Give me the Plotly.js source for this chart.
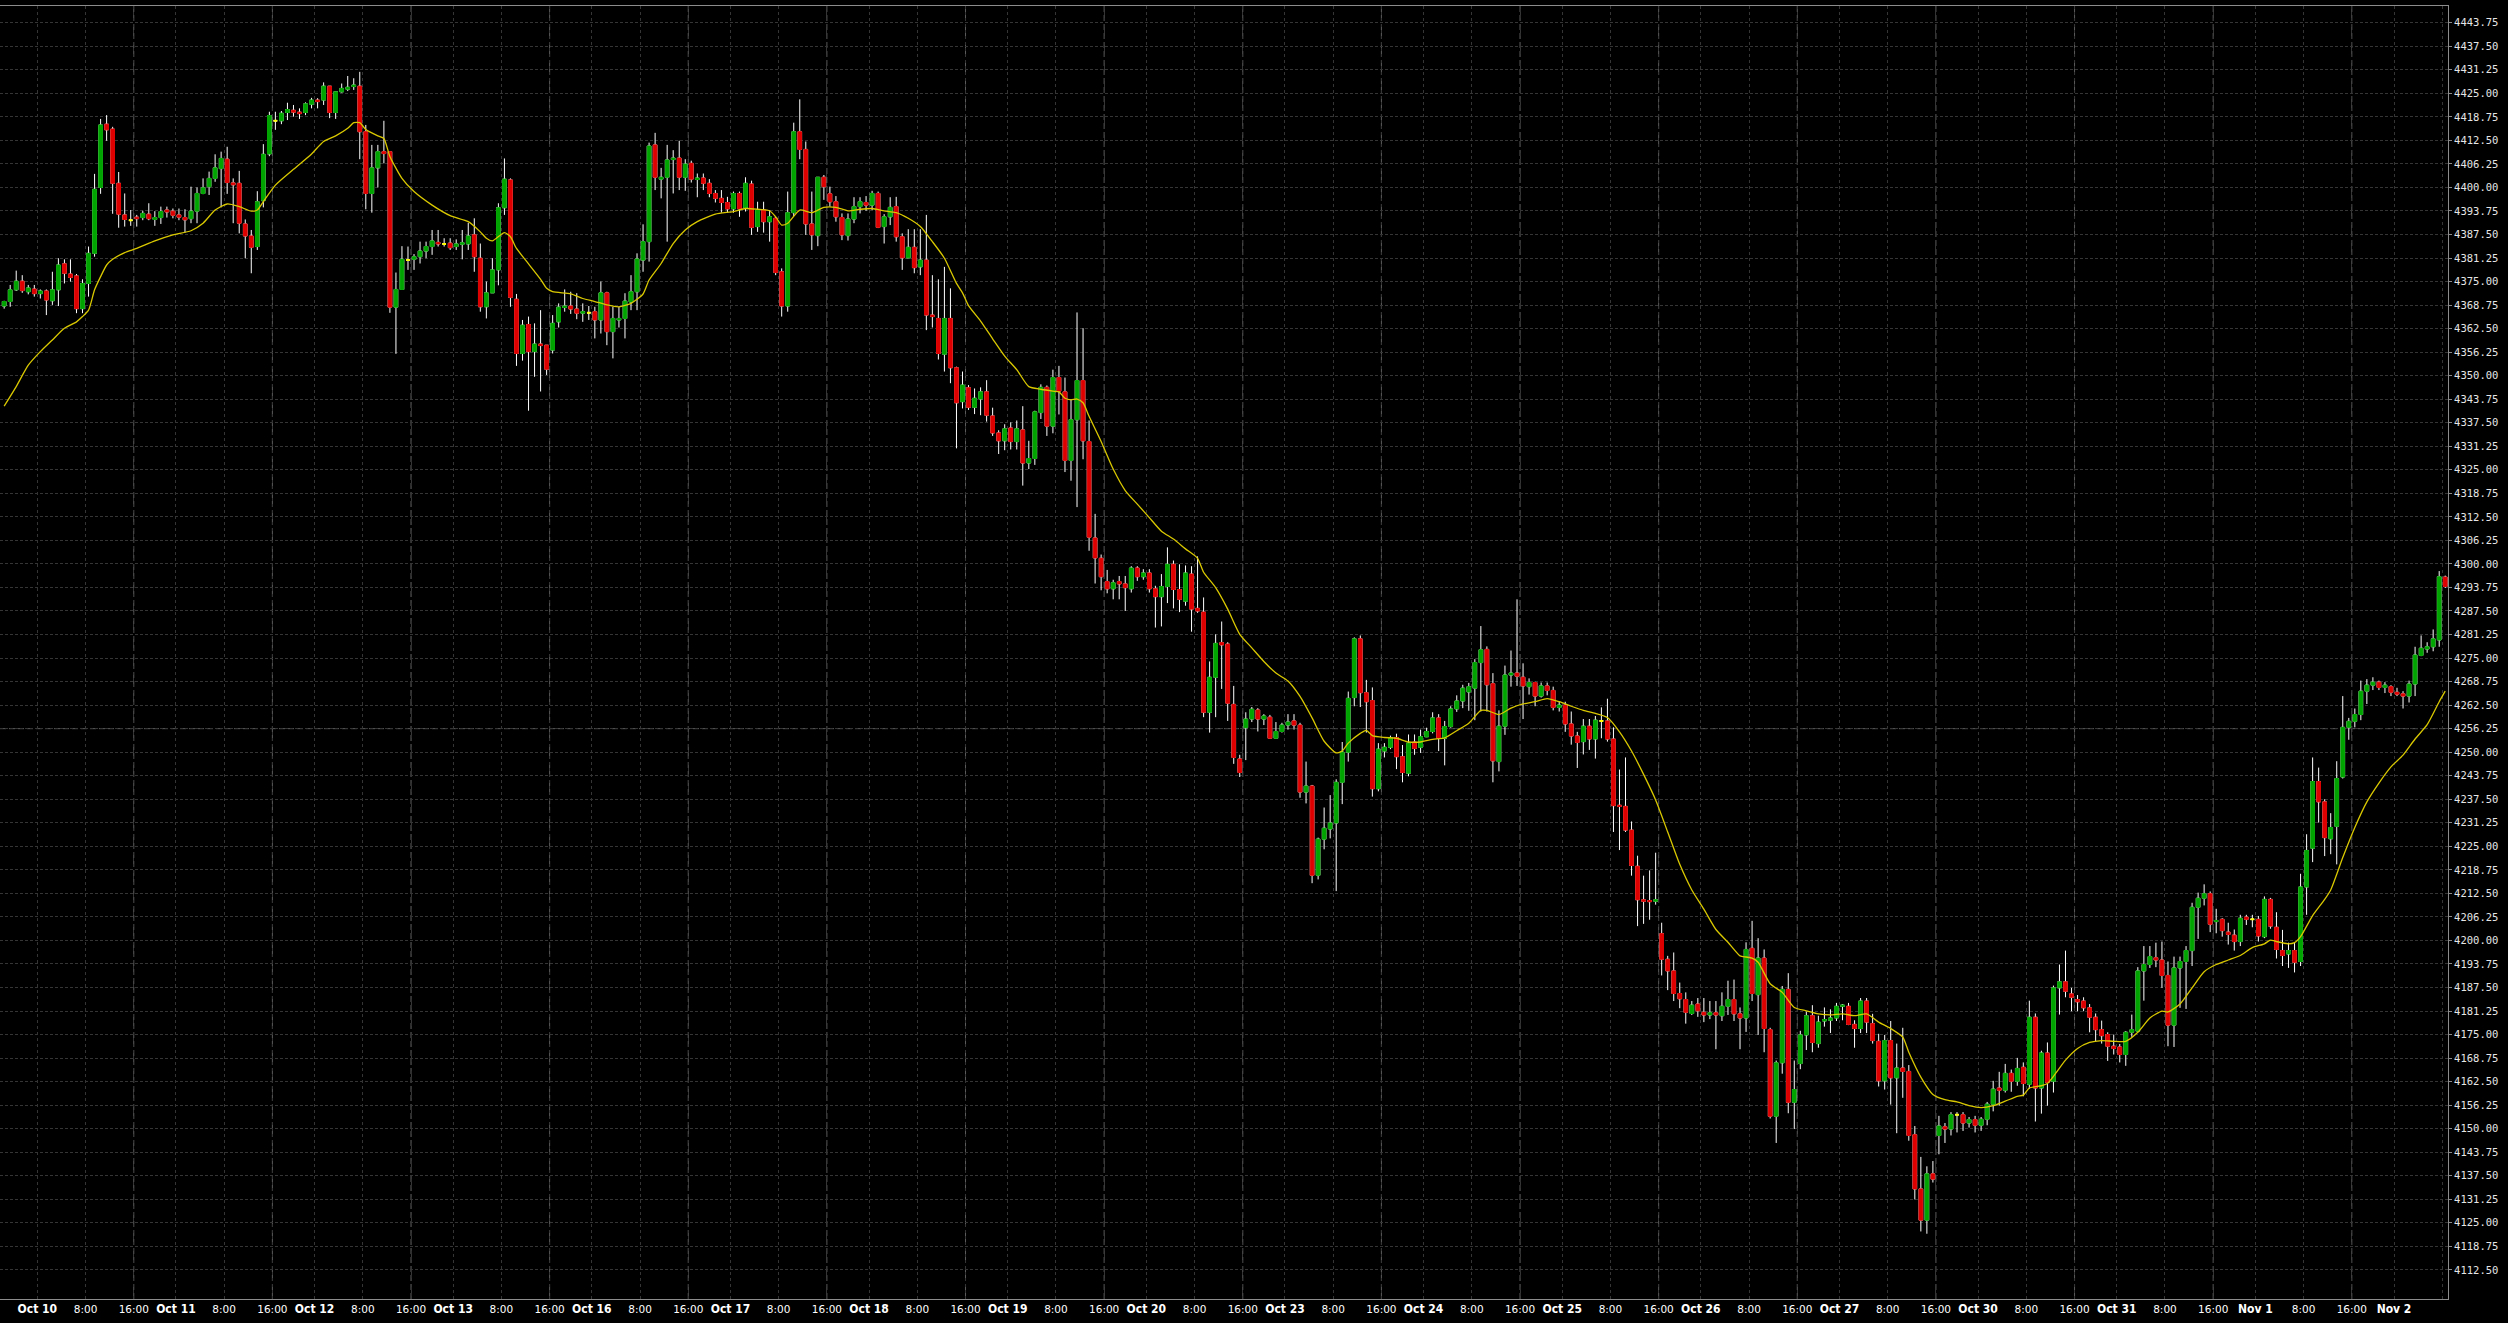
<!DOCTYPE html>
<html>
<head>
<meta charset="utf-8">
<script src="https://cdn.plot.ly/plotly-3.0.1.min.js"></script>
<style>html,body{margin:0;padding:0;background:#000;}#chart{width:2508px;height:1323px;}</style>
</head>
<body>
<div id="chart"></div>
<script>
// ---- data (hourly bars, 23 per session day) ----
const dayLabels = ['Oct 10','Oct 11','Oct 12','Oct 13','Oct 16','Oct 17','Oct 18','Oct 19','Oct 20','Oct 23','Oct 24','Oct 25','Oct 26','Oct 27','Oct 30','Oct 31','Nov 1','Nov 2'];
const hourLabels = ['8:00','16:00'];
const priceTickFirst = 4112.5, priceTickLast = 4443.75, priceTickStep = 6.25;

const open = [
4368.5,4369.7,4372.8,4375.1,4372.3,4373.0,4371.8,4372.5,4369.9,4372.8,
4379.7,4377.0,4376.5,4367.8,4374.5,4382.5,4400.0,4416.8,4415.5,4401.1,
4392.7,4391.3,4392.1,4392.0,4392.9,4391.5,4392.0,4394.0,4393.7,4392.7,
4392.0,4391.7,4393.7,4398.4,4400.2,4402.4,4405.0,4407.5,4401.2,4401.1,
4390.3,4387.1,4384.3,4396.5,4408.9,4417.7,4417.7,4419.9,4420.5,4420.0,
4419.9,4422.1,4423.2,4423.2,4426.9,4419.9,4425.4,4426.1,4426.8,4426.9,
4414.8,4398.4,4405.2,4409.5,4409.5,4368.2,4372.9,4380.7,4380.9,4381.6,
4383.1,4384.3,4385.4,4385.0,4385.2,4384.3,4384.9,4385.0,4387.4,4381.2,
4368.3,4372.0,4378.1,4394.6,4402.0,4370.3,4355.9,4363.6,4356.4,4358.4,
4358.1,4356.8,4364.3,4368.1,4368.5,4367.7,4366.6,4366.7,4367.0,4364.8,
4372.0,4361.7,4364.8,4365.2,4369.6,4372.3,4380.7,4385.6,4411.3,4402.2,
4402.7,4407.4,4407.8,4402.7,4406.4,4402.1,4402.5,4401.1,4398.4,4397.1,
4396.0,4394.3,4398.4,4394.7,4400.9,4389.6,4394.0,4390.9,4391.8,4377.6,
4368.5,4393.3,4414.8,4410.1,4390.3,4387.2,4402.7,4398.3,4396.2,4392.0,
4387.2,4391.6,4394.9,4396.0,4395.3,4398.4,4389.6,4392.2,4394.9,4386.9,
4381.3,4384.1,4378.9,4380.7,4366.1,4365.2,4355.7,4365.2,4352.1,4343.1,
4346.8,4341.6,4343.8,4345.7,4339.3,4334.8,4332.7,4336.1,4332.5,4335.6,
4326.8,4328.0,4340.2,4346.9,4336.6,4349.5,4345.7,4327.5,4338.3,4348.7,
4332.5,4306.9,4301.5,4295.3,4293.4,4295.3,4294.7,4293.4,4298.9,4296.6,
4297.6,4293.4,4291.3,4294.0,4299.9,4293.2,4290.1,4297.3,4288.2,4287.2,
4260.6,4269.9,4279.1,4278.7,4262.7,4248.2,4256.5,4258.8,4261.2,4258.8,
4259.3,4253.7,4255.5,4257.2,4258.3,4257.2,4239.4,4241.0,4217.3,4226.9,
4229.6,4231.2,4242.0,4250.0,4264.5,4280.1,4265.8,4263.7,4240.3,4250.3,
4251.3,4253.9,4248.8,4244.4,4252.7,4251.3,4254.1,4255.5,4259.1,4253.7,
4256.8,4261.5,4263.6,4266.0,4267.0,4273.8,4277.3,4268.2,4247.5,4256.9,
4270.5,4271.0,4269.9,4267.4,4268.5,4264.9,4267.6,4266.4,4261.9,4262.5,
4257.5,4254.3,4252.8,4256.9,4253.5,4258.3,4258.3,4253.5,4235.9,4235.6,
4229.3,4219.7,4210.8,4210.6,4210.4,4201.8,4195.0,4191.9,4185.9,4184.3,
4180.6,4183.1,4180.9,4180.2,4180.8,4180.0,4182.5,4184.3,4180.5,4179.4,
4197.9,4185.6,4195.3,4176.3,4153.3,4167.5,4187.0,4157.0,4167.3,4174.9,
4180.0,4172.6,4178.6,4178.8,4179.4,4182.5,4182.5,4177.7,4176.6,4183.9,
4177.9,4173.2,4162.7,4173.4,4163.5,4166.1,4165.2,4148.4,4134.0,4125.7,
4138.0,4148.2,4150.5,4149.9,4153.7,4153.7,4151.5,4152.4,4150.9,4152.5,
4156.5,4160.8,4160.2,4164.7,4162.6,4166.3,4161.8,4179.6,4160.8,4170.1,
4162.6,4187.4,4189.0,4185.8,4184.3,4183.9,4182.1,4179.6,4176.3,4175.0,
4171.9,4171.7,4169.7,4175.6,4175.9,4191.9,4193.6,4195.4,4194.8,4190.7,
4177.5,4192.7,4194.4,4197.3,4208.8,4211.2,4212.4,4205.0,4205.6,4202.2,
4201.4,4199.7,4206.2,4205.6,4205.6,4201.0,4210.9,4203.5,4197.3,4196.4,
4197.3,4194.4,4214.2,4224.5,4242.2,4236.8,4227.0,4230.3,4243.4,4256.6,
4258.2,4260.0,4266.2,4267.8,4268.6,4267.2,4267.4,4265.9,4265.5,4264.9,
4268.1,4275.7,4277.4,4278.0,4279.8,4296.5];

const high = [
4369.9,4374.1,4377.9,4376.7,4374.1,4374.1,4372.9,4372.9,4377.6,4381.2,
4380.9,4380.9,4377.0,4375.6,4384.3,4403.6,4418.2,4419.2,4416.1,4404.1,
4398.4,4394.0,4392.7,4393.8,4395.8,4393.7,4394.9,4394.9,4394.4,4394.4,
4394.2,4400.2,4400.0,4402.4,4404.2,4408.8,4409.5,4410.8,4402.4,4404.4,
4391.5,4388.7,4399.0,4411.5,4420.1,4420.1,4420.3,4422.5,4421.9,4421.0,
4422.6,4423.8,4423.7,4427.9,4426.9,4425.4,4427.6,4429.6,4429.0,4430.7,
4416.6,4411.3,4411.3,4417.7,4409.5,4377.4,4384.4,4384.3,4382.3,4385.6,
4385.6,4388.7,4388.7,4386.5,4386.5,4386.2,4388.7,4390.6,4391.8,4385.1,
4375.0,4381.2,4395.8,4407.7,4402.4,4371.7,4364.8,4365.7,4363.9,4367.4,
4358.1,4366.1,4369.2,4372.9,4372.3,4371.9,4369.2,4368.5,4368.3,4375.0,
4372.3,4368.3,4368.3,4371.9,4376.7,4382.5,4390.2,4411.9,4414.5,4405.2,
4411.3,4409.9,4412.4,4407.5,4407.1,4403.7,4403.7,4402.2,4399.3,4399.3,
4397.5,4398.9,4398.9,4402.7,4401.8,4396.2,4396.2,4394.0,4392.2,4378.5,
4398.9,4417.2,4423.4,4412.2,4398.9,4402.7,4403.3,4400.2,4397.7,4393.1,
4393.1,4397.4,4397.4,4397.7,4399.1,4398.9,4392.9,4397.4,4397.5,4387.8,
4388.9,4388.9,4388.9,4392.7,4376.7,4375.6,4378.9,4373.2,4352.4,4351.1,
4347.5,4346.6,4346.9,4348.8,4341.5,4335.5,4337.1,4337.6,4338.1,4341.9,
4332.7,4340.7,4347.7,4347.4,4351.6,4352.6,4349.5,4343.8,4366.8,4362.6,
4338.1,4313.3,4302.5,4298.4,4295.8,4296.8,4296.8,4299.4,4299.4,4298.6,
4298.6,4294.2,4297.3,4304.4,4300.9,4299.9,4299.6,4299.4,4302.0,4291.1,
4274.1,4281.3,4284.7,4279.2,4267.6,4249.3,4260.6,4262.0,4261.7,4260.1,
4259.9,4258.0,4257.8,4260.1,4260.1,4257.8,4247.5,4241.3,4227.3,4235.3,
4238.6,4242.8,4252.7,4266.1,4280.5,4281.0,4269.2,4267.2,4252.4,4252.4,
4254.4,4254.9,4251.9,4254.7,4254.7,4256.0,4256.5,4260.6,4260.1,4258.3,
4262.2,4265.1,4267.9,4268.4,4274.7,4283.5,4278.1,4271.0,4261.1,4273.0,
4277.0,4290.6,4273.6,4269.6,4268.7,4268.5,4268.5,4267.4,4263.4,4263.4,
4260.8,4255.4,4258.8,4258.8,4259.6,4261.9,4264.2,4256.6,4245.4,4248.6,
4231.6,4222.5,4217.2,4218.6,4223.3,4204.7,4195.9,4196.8,4188.8,4186.2,
4183.9,4184.7,4184.7,4183.9,4183.9,4186.2,4189.3,4189.6,4182.2,4199.5,
4205.2,4200.6,4197.6,4176.8,4168.1,4187.9,4191.3,4168.1,4176.0,4181.1,
4182.8,4180.0,4182.2,4181.7,4183.4,4183.1,4183.4,4178.8,4184.7,4184.7,
4180.5,4175.2,4174.9,4178.6,4172.6,4176.8,4166.9,4150.7,4142.5,4140.0,
4141.4,4153.4,4151.5,4154.4,4154.4,4154.4,4153.1,4153.4,4153.1,4157.1,
4162.7,4165.1,4167.2,4165.7,4168.8,4167.6,4184.0,4180.6,4170.7,4172.9,
4188.0,4193.6,4197.3,4187.4,4185.5,4184.9,4183.1,4180.6,4178.7,4175.6,
4175.0,4172.5,4175.9,4180.3,4192.9,4198.5,4198.5,4199.4,4199.7,4194.4,
4195.7,4195.7,4198.5,4210.0,4212.7,4214.9,4213.0,4208.4,4205.9,4204.7,
4202.9,4206.8,4206.8,4206.8,4206.5,4211.7,4211.3,4207.5,4202.8,4199.4,
4199.4,4217.7,4228.2,4248.6,4245.9,4237.5,4233.8,4247.6,4264.9,4259.1,
4261.6,4269.0,4269.4,4269.9,4269.0,4268.6,4267.8,4267.1,4266.2,4269.0,
4278.0,4281.0,4279.2,4282.6,4298.1,4296.9];

const low = [
4367.8,4368.3,4372.5,4372.0,4371.6,4371.0,4370.5,4366.1,4368.8,4368.5,
4374.5,4375.0,4366.6,4366.6,4371.0,4381.6,4398.3,4412.4,4393.0,4389.3,
4389.6,4389.8,4389.6,4391.3,4391.3,4389.8,4390.3,4392.0,4391.8,4391.3,
4388.0,4390.5,4390.5,4398.2,4398.0,4401.5,4394.7,4398.3,4390.5,4387.8,
4381.2,4377.2,4383.4,4394.7,4408.3,4415.3,4416.8,4417.9,4418.8,4418.2,
4419.2,4421.0,4421.0,4421.9,4418.4,4418.2,4425.2,4425.6,4425.9,4407.5,
4394.2,4393.3,4400.0,4406.4,4366.7,4355.8,4372.9,4378.1,4378.1,4379.8,
4381.2,4382.1,4384.3,4384.3,4383.4,4383.4,4380.9,4383.4,4377.6,4367.0,
4365.2,4372.0,4374.0,4392.7,4368.3,4352.6,4354.0,4340.7,4349.7,4345.8,
4350.2,4355.9,4362.8,4367.0,4366.4,4365.0,4364.3,4364.8,4359.9,4361.2,
4358.1,4354.6,4362.8,4359.9,4367.4,4367.4,4377.6,4380.3,4399.3,4397.1,
4385.6,4398.4,4399.3,4399.1,4401.3,4397.4,4399.3,4397.4,4396.0,4393.3,
4393.3,4393.3,4392.2,4393.6,4387.4,4388.2,4388.0,4385.6,4376.7,4365.7,
4367.0,4392.4,4407.5,4387.4,4383.4,4384.4,4396.7,4394.9,4390.9,4386.0,
4385.9,4390.5,4393.1,4393.8,4394.0,4389.2,4385.1,4390.0,4385.6,4378.1,
4381.2,4377.2,4376.7,4362.1,4362.8,4354.3,4351.1,4348.0,4330.7,4341.3,
4340.9,4339.8,4339.5,4337.8,4334.0,4329.2,4330.2,4330.4,4330.4,4320.8,
4325.2,4326.3,4338.5,4334.0,4334.7,4339.7,4324.4,4322.1,4315.1,4327.8,
4303.5,4294.8,4293.0,4292.2,4290.6,4290.6,4287.5,4292.4,4295.5,4295.8,
4292.4,4283.1,4283.4,4289.6,4288.2,4287.2,4288.9,4282.0,4287.0,4259.3,
4255.2,4259.3,4266.8,4258.3,4246.9,4243.4,4247.9,4258.0,4255.5,4257.2,
4253.7,4253.7,4255.2,4256.0,4256.0,4237.9,4236.4,4215.2,4216.2,4224.2,
4227.1,4213.1,4236.2,4247.5,4262.2,4262.0,4255.2,4238.2,4239.6,4248.6,
4250.8,4245.5,4242.0,4243.6,4249.3,4249.8,4254.0,4255.0,4250.3,4246.5,
4256.5,4260.7,4261.7,4261.0,4258.5,4260.8,4260.8,4242.0,4244.9,4254.6,
4267.4,4267.6,4258.8,4265.3,4262.2,4264.5,4265.1,4261.1,4260.8,4255.4,
4252.0,4245.8,4249.4,4250.6,4248.3,4253.7,4252.8,4228.8,4224.0,4228.8,
4217.2,4203.8,4204.4,4205.5,4209.5,4190.7,4186.8,4183.9,4182.0,4177.9,
4180.2,4179.7,4178.3,4179.1,4171.1,4178.6,4180.2,4178.6,4171.1,4175.7,
4183.9,4174.9,4170.3,4152.7,4146.2,4164.6,4154.1,4149.9,4165.8,4170.9,
4170.3,4171.5,4177.1,4175.4,4178.6,4178.8,4177.5,4171.5,4175.4,4175.4,
4172.6,4161.2,4160.4,4156.4,4148.8,4158.2,4146.8,4131.2,4122.7,4122.1,
4135.7,4143.2,4146.2,4148.2,4149.0,4149.4,4150.3,4149.0,4149.4,4150.9,
4154.6,4156.1,4159.6,4159.8,4161.4,4158.6,4160.6,4151.9,4154.0,4156.1,
4159.6,4180.3,4184.9,4181.2,4181.2,4181.2,4175.6,4173.2,4172.6,4168.0,
4169.7,4167.6,4166.7,4174.4,4175.6,4184.0,4192.7,4192.9,4187.4,4171.9,
4171.7,4182.1,4181.8,4193.2,4200.4,4209.3,4202.2,4201.9,4201.0,4198.9,
4197.3,4198.5,4204.1,4203.5,4199.7,4200.6,4203.1,4195.2,4193.2,4192.7,
4191.5,4193.2,4206.8,4220.8,4231.3,4222.4,4222.9,4220.2,4243.0,4253.3,
4256.6,4258.5,4262.8,4266.5,4266.5,4265.7,4264.9,4264.9,4261.6,4263.2,
4264.9,4275.5,4276.4,4276.8,4278.0,4293.6];

const close = [
4369.7,4372.8,4375.1,4372.6,4373.3,4371.8,4372.5,4370.1,4372.8,4379.4,
4377.2,4376.1,4367.8,4374.5,4382.5,4399.5,4416.6,4415.3,4401.1,4392.9,
4391.5,4391.3,4391.7,4393.1,4391.7,4392.0,4393.6,4393.5,4392.6,4392.1,
4391.4,4393.7,4398.4,4399.9,4402.4,4405.2,4407.7,4401.3,4400.7,4390.5,
4387.1,4384.1,4396.2,4408.8,4419.1,4417.7,4419.7,4420.7,4420.0,4419.6,
4422.2,4423.2,4422.8,4426.9,4419.9,4425.4,4426.3,4426.6,4427.2,4414.8,
4398.4,4405.2,4409.5,4409.0,4368.2,4372.9,4380.9,4380.7,4381.6,4383.1,
4384.3,4385.8,4385.0,4385.0,4384.0,4385.0,4385.3,4387.1,4381.6,4368.3,
4372.0,4378.1,4394.6,4402.2,4370.8,4355.9,4363.4,4356.4,4358.4,4358.0,
4351.7,4363.9,4368.2,4368.5,4367.7,4366.6,4367.0,4366.7,4364.8,4372.0,
4361.7,4365.2,4365.2,4369.8,4372.3,4381.0,4385.6,4411.0,4402.7,4402.7,
4407.3,4407.8,4402.7,4406.2,4402.2,4402.5,4401.1,4398.4,4397.1,4396.0,
4394.3,4398.4,4394.3,4401.1,4389.4,4394.0,4390.9,4392.2,4377.4,4368.5,
4393.3,4414.8,4410.1,4390.3,4387.4,4402.7,4400.2,4396.2,4392.2,4387.4,
4391.6,4394.9,4396.2,4395.3,4398.4,4389.4,4392.2,4394.7,4386.9,4381.3,
4384.1,4378.7,4380.7,4366.1,4365.7,4355.9,4365.2,4352.1,4342.8,4347.5,
4341.6,4344.0,4345.7,4339.5,4334.8,4332.7,4335.9,4332.5,4335.9,4326.8,
4328.0,4340.4,4346.9,4336.6,4349.5,4345.9,4327.5,4338.3,4348.7,4332.7,
4307.1,4301.6,4296.6,4293.4,4295.0,4294.7,4293.7,4298.9,4296.6,4297.6,
4293.4,4291.3,4294.0,4299.9,4293.2,4290.6,4297.6,4288.0,4287.5,4260.6,
4269.9,4278.9,4278.5,4263.0,4248.6,4244.6,4258.8,4261.4,4258.8,4259.6,
4253.7,4255.5,4257.2,4258.0,4257.2,4239.4,4241.0,4217.3,4226.9,4229.8,
4231.2,4242.0,4250.0,4264.3,4280.1,4265.8,4263.4,4240.3,4250.8,4251.3,
4253.9,4248.8,4244.6,4252.4,4251.0,4254.1,4255.5,4259.1,4253.7,4256.8,
4261.5,4263.6,4267.0,4267.4,4273.8,4277.2,4267.9,4247.7,4256.9,4270.5,
4271.0,4270.2,4267.6,4268.5,4264.9,4267.6,4266.4,4261.9,4262.5,4257.5,
4254.3,4252.6,4256.9,4253.5,4258.5,4258.3,4253.5,4235.8,4235.6,4229.3,
4219.9,4210.8,4210.4,4210.3,4210.8,4195.0,4191.9,4185.9,4184.5,4180.9,
4182.8,4181.3,4180.2,4180.8,4180.2,4182.5,4184.3,4180.5,4179.4,4197.6,
4185.9,4195.3,4176.6,4153.3,4167.5,4187.0,4157.0,4160.4,4174.9,4180.0,
4172.9,4178.3,4179.0,4179.4,4182.5,4182.8,4177.7,4176.6,4183.9,4178.3,
4173.4,4162.7,4173.4,4163.5,4166.1,4165.2,4148.2,4134.0,4125.7,4138.0,
4136.6,4150.7,4149.9,4153.7,4153.7,4151.5,4152.4,4150.9,4152.5,4156.5,
4160.5,4160.2,4164.7,4162.6,4166.0,4162.0,4179.6,4160.8,4170.1,4162.3,
4187.4,4189.0,4186.5,4184.9,4183.7,4182.1,4179.6,4176.3,4174.7,4171.9,
4171.3,4169.7,4175.6,4176.3,4191.9,4193.6,4195.7,4194.8,4190.7,4177.5,
4192.7,4194.4,4197.3,4208.8,4211.2,4212.4,4204.3,4205.3,4202.6,4201.6,
4199.7,4205.9,4205.6,4205.6,4201.2,4210.9,4203.8,4197.6,4196.0,4197.3,
4194.2,4214.2,4223.9,4242.2,4236.8,4227.3,4230.0,4243.0,4256.6,4258.2,
4260.0,4266.2,4267.8,4268.6,4267.2,4267.8,4265.9,4265.4,4264.9,4268.1,
4275.8,4277.6,4278.0,4280.1,4296.6,4294.0];

// moving-average line (bar number, value)
const maBar = [0,2,4,6,8,10,12,13,14,15,16,17,18,20,22,25,28,31,33,35,37,39,41,42,43,45,48,51,53,55,57,58,59,60,62,63,64,66,68,71,74,77,79,80,81,83,84,85,87,89,90,91,94,96,98,100,102,104,106,107,109,111,113,115,118,121,123,125,127,128,129,130,132,134,136,138,140,142,144,146,148,150,152,154,156,158,159,160,162,164,166,168,170,172,174,175,176,177,178,179,180,182,184,186,188,190,192,194,196,198,199,201,203,205,207,209,211,213,215,217,219,221,222,223,225,226,227,229,231,233,235,237,239,241,243,245,246,248,250,252,254,256,258,260,262,264,266,268,270,272,274,276,278,280,282,284,286,288,289,290,291,293,295,297,299,301,303,305,307,309,311,313,315,316,318,320,322,324,326,328,330,332,334,335,336,338,339,340,342,344,346,348,350,352,354,356,358,359,361,363,365,367,369,371,373,375,376,377,379,380,381,383,385,386,388,390,392,394,396,398,400,402,404,405];
const maValue = [4341.9,4347.1,4352.8,4356.4,4359.5,4362.6,4364.3,4365.7,4367.4,4372.8,4376.3,4379.4,4380.9,4382.7,4383.8,4385.8,4387.4,4388.5,4390.5,4394.0,4395.6,4394.9,4393.7,4394.0,4396.2,4400.6,4404.8,4408.9,4412.2,4413.7,4415.7,4417.2,4417.2,4415.4,4413.7,4413.0,4408.2,4402.4,4398.9,4395.3,4392.5,4390.9,4388.2,4386.5,4385.8,4388.0,4386.9,4383.8,4379.7,4375.6,4373.2,4372.3,4371.7,4370.5,4369.7,4368.8,4368.3,4369.2,4371.7,4375.4,4379.8,4385.1,4388.7,4390.9,4392.9,4393.6,4394.4,4394.2,4393.8,4392.2,4390.0,4390.5,4394.0,4393.3,4394.7,4394.7,4393.8,4394.2,4394.4,4393.8,4393.3,4391.8,4389.6,4385.6,4381.2,4374.5,4372.0,4368.6,4364.5,4359.8,4355.2,4351.6,4347.1,4346.4,4345.9,4345.7,4344.0,4343.6,4343.8,4342.8,4339.2,4332.5,4325.2,4319.5,4315.9,4312.3,4308.7,4306.6,4304.0,4301.5,4297.8,4293.7,4288.0,4281.3,4277.7,4274.1,4271.0,4268.9,4264.8,4259.1,4252.9,4249.8,4250.3,4252.4,4255.0,4255.8,4254.4,4253.9,4253.7,4252.7,4252.7,4253.4,4253.8,4255.7,4257.7,4261.1,4261.1,4260.0,4261.7,4262.8,4263.4,4264.2,4263.4,4262.2,4261.1,4260.3,4259.2,4255.4,4250.3,4244.1,4237.3,4228.8,4220.2,4213.4,4208.3,4202.9,4199.5,4195.9,4195.6,4195.3,4194.2,4188.5,4186.2,4182.2,4181.3,4180.5,4180.2,4180.5,4180.0,4180.5,4178.3,4176.6,4174.3,4170.3,4163.7,4159.1,4157.7,4157.1,4156.1,4155.6,4156.1,4157.3,4158.6,4158.9,4160.8,4161.4,4162.0,4163.9,4168.2,4171.3,4172.9,4173.4,4173.2,4173.2,4175.6,4179.4,4181.2,4181.0,4183.1,4187.4,4191.7,4193.6,4194.8,4196.0,4198.1,4199.1,4200.1,4199.7,4199.1,4199.4,4201.0,4206.6,4210.9,4213.4,4222.0,4230.0,4236.8,4241.8,4246.1,4249.2,4253.5,4257.3,4263.4,4266.2];

const highlightLevel = 4256.25;

// ---- build traces ----
const n = open.length;
const idx = Array.from({length: n}, (_, i) => i);
const bodyX = [], bodyO = [], bodyC = [], bodyH = [], bodyL = [];
const dojiX = [], dojiV = [];
idx.forEach(i => {
  if (open[i] === close[i]) { dojiX.push(i); dojiV.push(open[i]); }
  else {
    bodyX.push(i); bodyO.push(open[i]); bodyC.push(close[i]);
    bodyH.push(Math.max(open[i], close[i])); bodyL.push(Math.min(open[i], close[i]));
  }
});

const GREEN = '#00a400', RED = '#de0000', WHITE = '#ffffff', YELLOW = '#ffff00';

const wickTrace = {
  type: 'candlestick', x: idx, open: open, high: high, low: low, close: close,
  increasing: {line: {color: WHITE, width: 1}, fillcolor: WHITE},
  decreasing: {line: {color: WHITE, width: 1}, fillcolor: WHITE},
  whiskerwidth: 0, hoverinfo: 'skip', showlegend: false
};
const bodyTrace = {
  type: 'candlestick', x: bodyX, open: bodyO, high: bodyH, low: bodyL, close: bodyC,
  increasing: {line: {color: GREEN, width: 1}, fillcolor: GREEN},
  decreasing: {line: {color: RED, width: 1}, fillcolor: RED},
  whiskerwidth: 0, hoverinfo: 'skip', showlegend: false
};
const dojiTrace = {
  type: 'candlestick', x: dojiX, open: dojiV, high: dojiV, low: dojiV, close: dojiV,
  increasing: {line: {color: YELLOW, width: 2}, fillcolor: YELLOW},
  decreasing: {line: {color: YELLOW, width: 2}, fillcolor: YELLOW},
  whiskerwidth: 0, hoverinfo: 'skip', showlegend: false
};
const maTrace = {
  type: 'scatter', mode: 'lines', x: maBar, y: maValue,
  line: {color: '#d9c800', width: 1.3, shape: 'spline', smoothing: 0.6},
  hoverinfo: 'skip', showlegend: false
};

// ---- time-axis ticks: session days of 23 hourly bars ----
const tickVals = [], tickText = [], sessionLines = [];
dayLabels.forEach((d, k) => {
  const dayPos = 5.5 + 23 * k;
  tickVals.push(dayPos);
  tickText.push('<b><span style="font-family:DejaVu Sans Condensed;font-size:12px">' + d + '</span></b>');
  tickVals.push(dayPos + 8);
  tickText.push(k < dayLabels.length - 1 ? hourLabels[0] : '');
  if (k < dayLabels.length - 1) {
    tickVals.push(dayPos + 16);
    tickText.push(hourLabels[1]);
    sessionLines.push(dayPos + 16);
  }
});

// ---- price-axis ticks ----
const priceTicks = [];
for (let v = priceTickFirst; v <= priceTickLast + 1e-9; v += priceTickStep) priceTicks.push(v);

const shapes = sessionLines.map(v => ({
  type: 'line', xref: 'x', yref: 'paper', x0: v, x1: v, y0: 0, y1: 1,
  line: {color: '#5c5c5c', width: 1, dash: '6px,3px'}, layer: 'below'
}));
shapes.push({
  type: 'line', xref: 'paper', yref: 'y', x0: 0, x1: 1, y0: highlightLevel, y1: highlightLevel,
  line: {color: '#5c5c5c', width: 1, dash: '6px,3px'}, layer: 'below'
});

const layout = {
  width: 2508, height: 1323,
  paper_bgcolor: '#000000', plot_bgcolor: '#000000',
  margin: {l: 0, r: 60, t: 6, b: 24, pad: 0},
  showlegend: false, hovermode: false,
  boxgap: 0.39, boxgroupgap: 0,
  xaxis: {
    type: 'linear', range: [-0.69, 405.46], fixedrange: true,
    rangeslider: {visible: false},
    tickmode: 'array', tickvals: tickVals, ticktext: tickText, tickangle: 0,
    ticks: '', showgrid: true, gridcolor: '#353535', gridwidth: 1, griddash: '3px,3px',
    zeroline: false, showline: true, mirror: true, linecolor: '#8c8c8c', linewidth: 1,
    tickfont: {family: 'DejaVu Sans', size: 10.5, color: '#ffffff'}
  },
  yaxis: {
    side: 'right', range: [4104.76, 4448.19], fixedrange: true,
    tickmode: 'array', tickvals: priceTicks, ticktext: priceTicks.map(v => v.toFixed(2)),
    ticks: 'outside', ticklen: 3, tickcolor: '#8c8c8c',
    showgrid: true, gridcolor: '#353535', gridwidth: 1, griddash: '3px,2px',
    zeroline: false, showline: true, mirror: true, linecolor: '#8c8c8c', linewidth: 1,
    tickfont: {family: 'DejaVu Sans Mono', size: 10.5, color: '#e6e6e6'}
  },
  shapes: shapes
};

Plotly.newPlot('chart', [wickTrace, bodyTrace, dojiTrace, maTrace], layout, {displayModeBar: false, staticPlot: true});
</script>
</body>
</html>
